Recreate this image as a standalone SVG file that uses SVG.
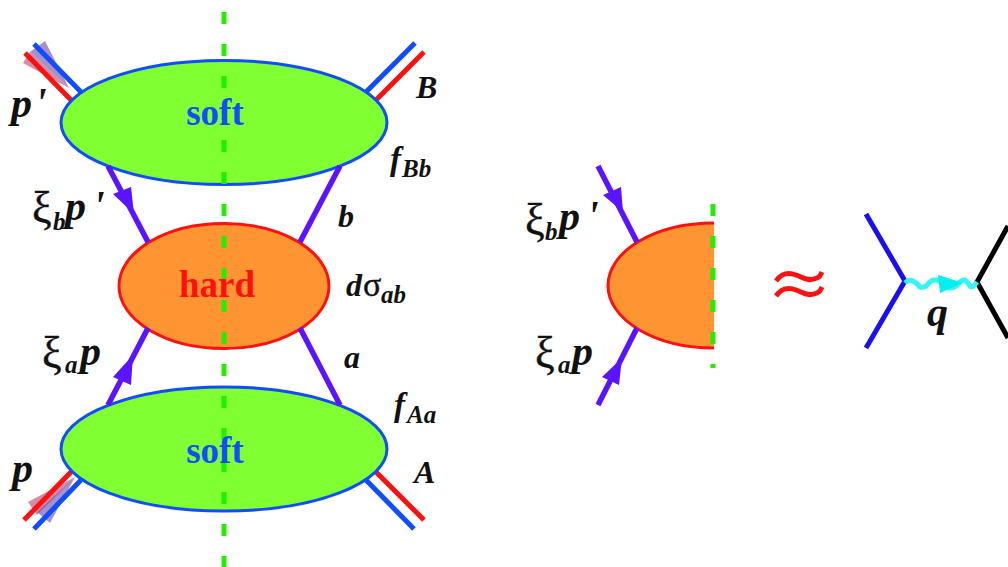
<svg xmlns="http://www.w3.org/2000/svg" width="1008" height="567" viewBox="0 0 1008 567">
<style>
.t{font-family:"Liberation Serif","Times New Roman",serif;font-weight:bold;font-style:italic;fill:#111;font-size:42px}
.m{font-size:32px}
.f{font-size:33px}
.sub{font-size:25px}
.g{font-family:"Liberation Serif","Times New Roman",serif;font-style:normal;font-weight:normal;fill:#111;font-size:44px;stroke:#111;stroke-width:.4}
.lbl{font-family:"Liberation Serif","Times New Roman",serif;font-weight:bold;font-size:37px;text-anchor:middle}
.soft{fill:#80ff33;stroke:#0f4dff;stroke-width:3}
.hard{fill:#ff9433;stroke:#ff1010;stroke-width:3}
.dash{stroke:#22ee00;stroke-width:5;stroke-dasharray:12 20;fill:none}
.pl{stroke:#5a14ff;stroke-width:5.500;fill:none}
.rd{stroke:#ff1010;stroke-width:5;fill:none}
.bl{stroke:#0f4dff;stroke-width:5;fill:none}
.pa{fill:#5a14ff}
.c1{fill:#6a4aa8;fill-opacity:.6}
.c2{fill:#b03060;fill-opacity:.55}
</style>
<g id="connectors">
<path class="c1" d="M45,41L69,88L30,52Z"/>
<path class="c2" d="M23,63L69,88L30,52Z"/>
<path class="c2" d="M75,477L28,502L37,515Z"/>
<path class="c1" d="M75,477L50,523L37,512Z"/>
<path class="bl" d="M366,92L415,43M34,44L81,92M81,480L34,529M366,480L414,529"/>
<path class="rd" d="M375,101L424,52M25,53L72,101M72,471L24,520M375,471L424,520"/>
</g>
<g id="soft-top"><ellipse class="soft" cx="224" cy="122.500" rx="163" ry="62"/></g>
<g id="soft-bottom"><ellipse class="soft" cx="224" cy="449" rx="163" ry="62"/></g>
<g id="hard"><ellipse class="hard" cx="224" cy="286" rx="105" ry="62.500"/></g>
<g id="quark-lines">
<path class="pl" d="M108,166L148,242M340,166L300,242M108,405L148,328M340,405L300,328"/>
<path class="pa" d="M113,194L131,187L134,214Z"/>
<path class="pa" d="M113,377L131,385L133,355Z"/>
</g>
<path class="dash" d="M224,12V567"/>
<g id="labels">
<text class="lbl" x="215" y="125" fill="#0f4dff">soft</text>
<text class="lbl" x="215" y="463" fill="#0f4dff">soft</text>
<text class="lbl" x="217" y="297" fill="#ff1010">hard</text>
<text class="t" x="11" y="117">p</text><text class="t" x="35" y="117">'</text>
<text class="t m" x="416" y="98">B</text>
<text class="t" x="12" y="482">p</text>
<text class="t m" x="414" y="483">A</text>
<text class="t f" x="390" y="170">f</text><text class="t sub" x="402" y="177">Bb</text>
<text class="t f" x="394" y="416">f</text><text class="t sub" x="407" y="423">Aa</text>
<text class="t m" x="338" y="227">b</text>
<text class="t m" x="344" y="368">a</text>
<text class="t m" x="346" y="296">d</text><text class="g" x="363" y="296" style="font-size:34px">σ</text><text class="t sub" x="381" y="303">ab</text>
<text class="g" x="32" y="222">ξ</text><text class="t sub" x="53" y="230">b</text><text class="t" x="65" y="220">p</text><text class="t" x="93" y="220">'</text>
<text class="g" x="42" y="367">ξ</text><text class="t sub" x="65" y="373">a</text><text class="t" x="80" y="365">p</text>
</g>
<g id="right-blob">
<path class="hard" d="M714,223A106,62.500 0 0 0 714,348" />
<path class="pl" d="M598,166L637,242M637,328L598,405"/>
<path class="pa" d="M603,195L621,187L623,212Z"/>
<path class="pa" d="M602,377L619,385L622,358Z"/>
<path class="dash" d="M713,204V368"/>
<text class="g" x="525" y="234">ξ</text><text class="t sub" x="545" y="240">b</text><text class="t" x="559" y="230">p</text><text class="t" x="587" y="230">'</text>
<text class="g" x="535" y="367">ξ</text><text class="t sub" x="558" y="373">a</text><text class="t" x="572" y="365">p</text>
</g>
<g id="approx">
<path d="M776,281C782,273 788,272 796,275S808,281 814,279S820,276 822,272M776,296C782,288 788,287 796,290S808,296 814,294S820,291 822,287" fill="none" stroke="#ff1010" stroke-width="5"/>
</g>
<g id="feynman">
<path d="M866,214L905,281L866,348" fill="none" stroke="#1a10ee" stroke-width="5"/>
<path d="M1008,226L977,282L1008,338" fill="none" stroke="#000" stroke-width="5"/>
<path d="M905,283Q909,279 913,281T920,287Q925,288 928,284T935,280Q940,280 943,284T950,288Q955,288 958,284T965,280Q968,283 970,286T977,282" fill="none" stroke="#33f5f5" stroke-width="5"/>
<path d="M938,275L963,283L940,293Z" fill="#00f0f0"/>
<text class="t" x="927" y="326">q</text>
</g>
</svg>
